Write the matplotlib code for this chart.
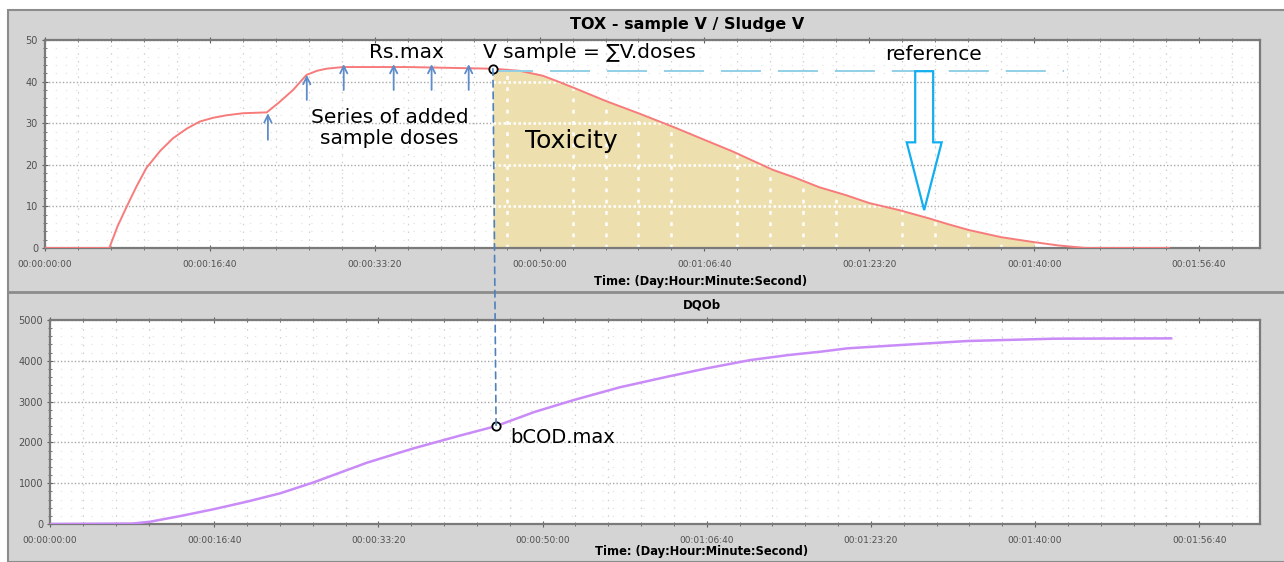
import numpy as np
import matplotlib.pyplot as plt
from matplotlib.patches import Rectangle, FancyArrow, ConnectionPatch
from matplotlib.lines import Line2D
from matplotlib.ticker import MultipleLocator, FuncFormatter

# TOX curve: time (s) vs sample V / sludge V
tox_time = [0, 390, 440, 495, 555, 616, 700, 777, 860, 939, 1020, 1100, 1202, 1345,
            1420, 1505, 1586, 1650, 1707, 1808, 2200, 2717, 2880, 3020, 3100, 3202,
            3404, 3606, 3830, 4000, 4172, 4414, 4550, 4697, 4859, 5000, 5182, 5364,
            5480, 5606, 5800, 6000, 6150, 6313, 6818]
tox_value = [0, 0, 5.2, 9.9, 14.8, 19.3, 23.4, 26.4, 28.7, 30.4, 31.3, 31.9, 32.4,
             32.6, 35.0, 38.0, 41.6, 42.6, 43.1, 43.5, 43.5, 43.1, 42.6, 41.4, 40.2,
             38.6, 35.3, 32.3, 28.8, 26.0, 23.2, 18.8, 16.9, 14.6, 12.7, 10.8, 9.1,
             7.1, 5.7, 4.3, 2.6, 1.4, 0.6, 0, 0]

# DQOb curve
cod_time = [0, 500, 610, 800, 994, 1199, 1402, 1606, 1931, 2215, 2500, 2717, 2950,
            3191, 3470, 3760, 4000, 4268, 4500, 4695, 4858, 5183, 5400, 5589, 6117,
            6829]
cod_value = [0, 10, 56, 200, 360, 547, 752, 1021, 1503, 1855, 2170, 2400, 2745,
             3039, 3350, 3610, 3815, 4020, 4142, 4224, 4306, 4387, 4440, 4485, 4542,
             4550]

# added sample doses (arrows)
dose_time = [1352, 1588, 1812, 2115, 2345, 2570]
dose_tail = [26.0, 35.6, 38.0, 38.0, 38.0, 38.0]
dose_head = [32.4, 41.6, 44.2, 44.2, 44.2, 44.2]

t_vmax = 2717      # V sample = sum of doses
tox_vmax = 43.1
cod_vmax = 2400    # bCOD.max
fill_end = 6000
ref_level = 42.5
ref_end = 6180
ref_arrow_t = 5333
ref_arrow_tip = 9.1


def dhms(s, pos=None):
    s = int(round(s))
    d, s = divmod(s, 86400)
    h, s = divmod(s, 3600)
    m, s = divmod(s, 60)
    return f"{d:02d}:{h:02d}:{m:02d}:{s:02d}"


W, H = 1284, 562
fig = plt.figure(figsize=(W / 100, H / 100), dpi=100)
fig.patch.set_facecolor('white')

# grey frame of the application window
fig.add_artist(Rectangle((8 / W, 0), 1, 1 - 10 / H, transform=fig.transFigure,
                         facecolor='#D4D4D4', edgecolor='#8C8C8C', lw=1.5, zorder=-2))
fig.add_artist(Line2D([8 / W, 1], [1 - 292 / H] * 2, transform=fig.transFigure,
                      color='#8C8C8C', lw=2, zorder=-1))

ax1 = fig.add_axes([45 / W, 1 - 248 / H, 1215 / W, 208 / H])
ax2 = fig.add_axes([50 / W, 1 - 524 / H, 1210 / W, 204 / H])


def style(ax, ymax, ymajor, yminor):
    ax.set_facecolor('white')
    ax.set_xlim(0, 7370)
    ax.set_ylim(0, ymax)
    ax.xaxis.set_major_locator(MultipleLocator(1000))
    ax.xaxis.set_minor_locator(MultipleLocator(200))
    ax.yaxis.set_major_locator(MultipleLocator(ymajor))
    ax.yaxis.set_minor_locator(MultipleLocator(yminor))
    ax.xaxis.set_major_formatter(FuncFormatter(dhms))
    for sp in ax.spines.values():
        sp.set_color('#7A7A7A')
        sp.set_linewidth(1.6)
    ax.tick_params(which='both', direction='inout', color='#606060', top=True,
                   labelsize=6.5, labelcolor='#505050')
    ax.tick_params(axis='x', which='major', length=5, pad=6)
    ax.tick_params(axis='x', which='minor', length=3)
    ax.tick_params(axis='y', which='major', length=4, pad=3, labelsize=7)
    ax.tick_params(axis='y', which='minor', length=3)
    ax.grid(axis='y', which='major', color='#A8A8A8', ls=(0, (1, 1.5)), lw=1)
    ax.grid(axis='x', which='minor', color='#D0D0D0', ls=(0, (1.2, 5)), lw=0.9)
    ax.grid(axis='y', which='minor', color='#E4E4E4', ls=(0, (1.2, 8)), lw=0.8)
    ax.set_axisbelow(True)


style(ax1, 50, 10, 2)
style(ax2, 5000, 1000, 200)

# --- top panel ---
tt = np.array(tox_time, dtype=float)
tv = np.array(tox_value, dtype=float)
mask = (tt >= t_vmax) & (tt <= fill_end)
poly = ax1.fill_between(tt, tv, where=mask, color='#EDE0AE', lw=0, zorder=1.5)
clip = poly.get_paths()[0]
for y in [10, 20, 30, 40]:
    ln, = ax1.plot([t_vmax, fill_end], [y, y], color='white', ls=(0, (1, 1)), lw=1.8, zorder=1.6)
    ln.set_clip_path(clip, ax1.transData)
for x in range(2800, fill_end + 1, 200):
    if x % 1000 == 0:
        continue
    ln, = ax1.plot([x, x], [0, 50], color='white', ls=(0, (1.5, 3)), lw=1.8, zorder=1.6)
    ln.set_clip_path(clip, ax1.transData)

ax1.plot(tox_time, tox_value, color='#F77B7B', lw=1.4, zorder=3)

# reference level
ax1.plot([t_vmax, ref_end], [ref_level, ref_level], color='#92D0E6', lw=1.4,
         dashes=(20.6, 8.7), zorder=3)

# sample dose arrows
for t, a, b in zip(dose_time, dose_tail, dose_head):
    ax1.annotate('', xy=(t, b), xytext=(t, a),
                 arrowprops=dict(arrowstyle='->', color='#5E8BC9', lw=1.3,
                                 mutation_scale=13, shrinkA=0, shrinkB=0), zorder=4)

# hollow reference arrow
ax1.add_patch(FancyArrow(ref_arrow_t, ref_level, 0, ref_arrow_tip - ref_level,
                         width=109, head_width=212, head_length=16.3,
                         length_includes_head=True, fill=False,
                         edgecolor='#12AEEF', lw=1.6, zorder=4))

fs = 14.5
ax1.text(2194, 46.9, 'Rs.max', fontsize=fs, ha='center', va='center', zorder=5)
ax1.text(3303, 46.9, 'V sample = \u2211V.doses', fontsize=fs, ha='center', va='center', zorder=5)
ax1.text(5388, 46.6, 'reference', fontsize=fs, ha='center', va='center', zorder=5)
ax1.text(2091, 28.8, 'Series of added\nsample doses', fontsize=fs, ha='center',
         va='center', linespacing=1.15, zorder=5)
ax1.text(3194, 25.7, 'Toxicity', fontsize=18, ha='center', va='center', zorder=5)

ax1.plot(t_vmax, tox_vmax, 'o', mfc='white', mec='black', ms=6, mew=1.3, zorder=6)

# --- bottom panel ---
ax2.plot(cod_time, cod_value, color='#C98BF7', lw=1.8, zorder=3)
ax2.plot(t_vmax, cod_vmax, 'o', mfc='white', mec='black', ms=6, mew=1.3, zorder=6)
ax2.text(2805, 2132, 'bCOD.max', fontsize=14, ha='left', va='center', zorder=5)

con = ConnectionPatch(xyA=(t_vmax, tox_vmax), coordsA=ax1.transData,
                      xyB=(t_vmax, cod_vmax), coordsB=ax2.transData,
                      color='#4F81BD', lw=1.2, ls=(0, (4, 3)), zorder=5)
fig.add_artist(con)

# titles and axis labels
fig.text(687 / W, 1 - 25 / H, 'TOX - sample V / Sludge V', fontsize=11.5,
         fontweight='bold', ha='center', va='center')
fig.text(702 / W, 1 - 305 / H, 'DQOb', fontsize=8.4, fontweight='bold',
         ha='center', va='center')
fig.text(701 / W, 1 - 281 / H, 'Time: (Day:Hour:Minute:Second)', fontsize=8.3,
         fontweight='bold', ha='center', va='center')
fig.text(702 / W, 1 - 552 / H, 'Time: (Day:Hour:Minute:Second)', fontsize=8.3,
         fontweight='bold', ha='center', va='center')

plt.savefig('out.png', dpi=100)
